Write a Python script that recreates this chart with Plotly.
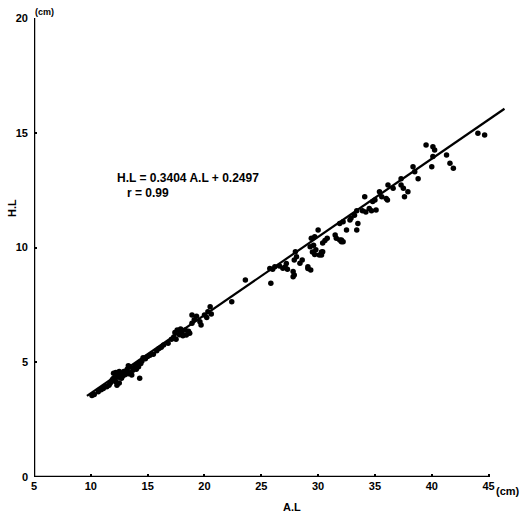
import numpy as np
import plotly.graph_objects as go

# Data (A.L vs H.L, cm)
al_values = [
    10.1, 10.3, 10.65, 10.9, 11.1, 11.3, 11.4, 11.6, 11.7, 11.8,
    12.0, 12.0, 12.1, 12.2, 12.3, 12.3, 12.4, 12.5, 12.5, 12.6,
    12.7, 12.8, 13.0, 13.1, 13.2, 13.3, 13.4, 13.5, 13.6, 13.7,
    13.8, 14.0, 14.1, 14.2, 14.3, 14.3, 14.5, 14.6, 14.8, 15.0,
    15.2, 15.5, 15.8, 16.0, 16.2, 16.4, 16.8, 17.1, 17.3, 17.4,
    17.5, 17.6, 17.8, 17.9, 18.0, 18.1, 18.3, 18.4, 18.6, 18.7,
    18.9, 18.9, 19.1, 19.3, 19.6, 19.7, 20.0, 20.2, 20.3, 20.5,
    20.6, 22.4, 23.6,
    25.84, 25.75, 26.0, 26.19, 26.6, 26.9, 27.1, 27.2, 27.3, 27.8,
    27.9, 27.9, 28.1, 28.0, 28.4, 28.6, 29.1, 29.35, 29.3, 29.5,
    29.6, 29.7, 29.8, 29.4, 29.7, 30.0, 30.3, 30.4, 30.4, 30.6,
    30.8, 31.5, 31.6, 32.05, 32.2, 31.9, 32.2, 32.5, 32.8, 32.9,
    33.4, 33.2, 33.5, 33.4, 34.1, 33.9, 34.2, 34.5, 34.7, 34.8,
    35.0, 35.1, 35.4, 35.6, 35.99, 36.1, 36.15, 36.6, 37.3, 37.3,
    37.5, 37.9, 37.6, 38.35, 38.5, 38.8, 39.5, 40.1, 40.25, 40.1,
    40.0, 41.3, 41.6, 41.9, 44.06, 44.65,
    27.8, 29.1, 30.1, 30.3, 31.9, 32.05,
    11.9, 12.2, 12.9, 13.3, 13.9, 14.4,
]
hl_values = [
    3.55, 3.6, 3.72, 3.8, 3.86, 3.95, 3.93, 4.0, 4.08, 4.15,
    4.3, 4.52, 4.3, 4.15, 4.0, 4.45, 4.35, 4.1, 4.6, 4.5,
    4.3, 4.4, 4.45, 4.6, 4.7, 4.5, 4.8, 4.55, 4.44, 4.65,
    4.75, 4.7, 4.9, 4.8, 5.0, 4.3, 5.05, 5.2, 5.15, 5.25,
    5.3, 5.35, 5.5, 5.6, 5.65, 5.75, 5.83, 6.0, 6.1, 6.3,
    6.0, 6.4, 6.2, 6.45, 6.3, 6.15, 6.4, 6.19, 6.35, 6.26,
    6.7, 7.06, 6.85, 7.0, 6.77, 6.62, 7.06, 6.95, 7.2, 7.42,
    7.1, 7.64, 8.58,
    8.44, 9.09, 9.05, 9.16, 9.19, 9.1, 9.15, 9.3, 9.05, 8.95,
    8.8, 9.46, 9.6, 9.82, 9.31, 9.46, 9.16, 9.02, 10.03, 9.8,
    10.1, 9.7, 9.9, 10.4, 10.47, 10.76, 9.67, 9.82, 10.2, 10.3,
    10.4, 10.54, 10.4, 10.33, 10.25, 11.05, 11.12, 10.76, 11.2, 11.28,
    11.6, 11.4, 11.05, 10.76, 12.21, 11.6, 11.55, 11.7, 11.6, 12.0,
    12.07, 11.63, 12.43, 12.21, 12.14, 12.07, 12.72, 12.58, 12.72, 13.0,
    12.58, 12.43, 12.21, 13.52, 13.3, 13.0, 14.47, 14.39, 14.25, 13.96,
    13.52, 14.03, 13.67, 13.45, 14.98, 14.9,
    8.73, 9.09, 9.67, 9.8, 10.33, 10.25,
    4.25, 4.55, 4.6, 4.85, 4.85, 4.95,
]

slope = 0.3404
intercept = 0.2497
line_x = [9.66, 46.4]
line_y = [slope * v + intercept for v in line_x]

x_ticks = [5, 10, 15, 20, 25, 30, 35, 40, 45]
y_ticks = [0, 5, 10, 15, 20]

FONT = "Liberation Sans"
BOLD = dict(family=FONT, size=11, color="black", weight="bold")

fig = go.Figure()
fig.add_trace(go.Scatter(x=line_x, y=line_y, mode="lines",
                         line=dict(color="black", width=2.2),
                         hoverinfo="skip", showlegend=False))
fig.add_trace(go.Scatter(x=al_values, y=hl_values, mode="markers",
                         marker=dict(color="black", size=5.5),
                         showlegend=False, cliponaxis=False))

# axis lines (the x axis stops at 45, while the regression line runs beyond)
fig.add_shape(type="line", xref="x", yref="y", x0=5, y0=0, x1=45, y1=0,
              line=dict(color="black", width=2.5))
fig.add_shape(type="line", xref="x", yref="y", x0=5, y0=0, x1=5, y1=20,
              line=dict(color="black", width=2.5))

fig.update_xaxes(range=[5, 47.5], tickvals=x_ticks, ticktext=[str(v) for v in x_ticks],
                 showgrid=False, zeroline=False, showline=False,
                 ticks="inside", ticklen=3, tickwidth=1.5, tickcolor="black",
                 tickfont=BOLD, ticklabelstandoff=1)
fig.update_yaxes(range=[0, 20], tickvals=y_ticks, ticktext=[str(v) for v in y_ticks],
                 showgrid=False, zeroline=False, showline=False,
                 ticks="inside", ticklen=3, tickwidth=1.5, tickcolor="black",
                 tickfont=BOLD, ticklabelstandoff=5)

# equation text inside the plot (data coordinates)
fig.add_annotation(xref="x", yref="y", x=12.1, y=13.03, showarrow=False,
                   text="H.L = 0.3404 A.L + 0.2497", xanchor="left", yanchor="middle",
                   font=dict(family=FONT, size=12, color="black", weight="bold"))
fig.add_annotation(xref="x", yref="y", x=13.0, y=12.37, showarrow=False,
                   text="r = 0.99", xanchor="left", yanchor="middle",
                   font=dict(family=FONT, size=12, color="black", weight="bold"))

# axis titles and units outside the plot (paper coordinates)
paper_ann = [
    dict(x=0.534, y=-0.065, text="A.L", xanchor="center", yanchor="middle"),
    dict(x=-0.0455, y=0.586, text="H.L", textangle=-90, xanchor="center", yanchor="middle"),
    dict(x=0.952, y=-0.03, text="(cm)", xanchor="left", yanchor="middle"),
    dict(x=-0.002, y=1.013, text="(cm)", xanchor="left", yanchor="middle",
         font=dict(family=FONT, size=9, color="black", weight="bold")),
]
for a in paper_ann:
    a.setdefault("font", BOLD)
    fig.add_annotation(xref="paper", yref="paper", showarrow=False, **a)

fig.update_layout(width=527, height=515,
                  margin=dict(l=34, r=10, t=18, b=38),
                  paper_bgcolor="white", plot_bgcolor="white",
                  font=dict(family=FONT, color="black"))

fig.write_html("out.html")
